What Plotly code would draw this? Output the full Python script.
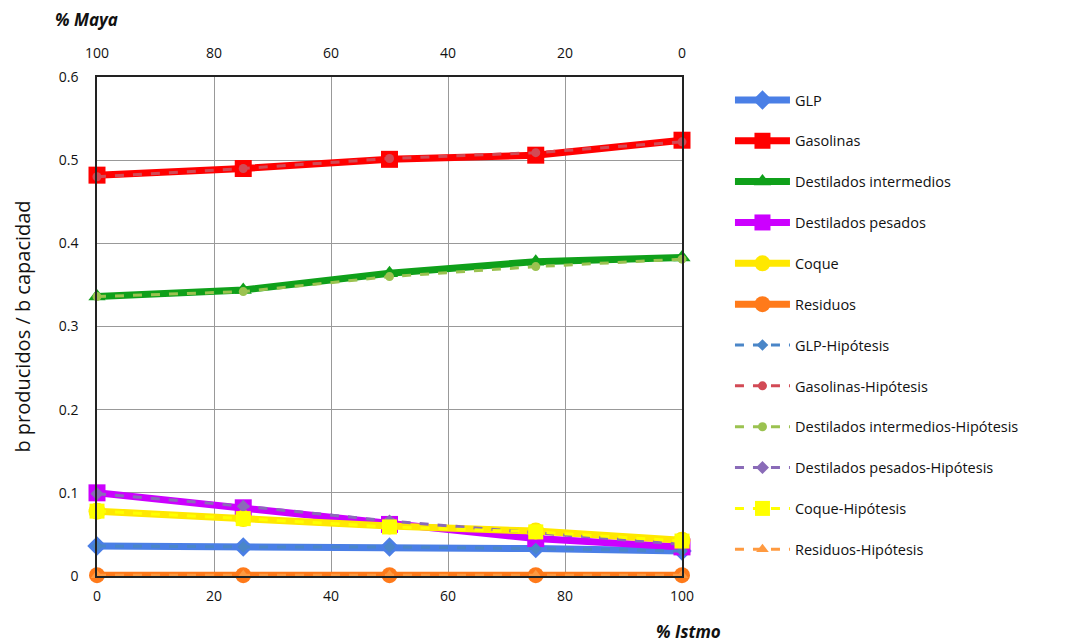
import plotly.graph_objects as go

istmo = [0, 25, 50, 75, 100]
maya_ticks = [100, 80, 60, 40, 20, 0]

glp = [0.036, 0.035, 0.035, 0.033, 0.030]
gasolinas = [0.482, 0.490, 0.501, 0.506, 0.524]
dest_int = [0.336, 0.344, 0.364, 0.378, 0.383]
dest_pes = [0.100, 0.082, 0.062, 0.045, 0.035]
coque = [0.078, 0.069, 0.060, 0.054, 0.043]
residuos = [0.001, 0.001, 0.001, 0.001, 0.001]

glp_h = [0.036, 0.035, 0.035, 0.033, 0.030]
gasolinas_h = [0.480, 0.490, 0.502, 0.509, 0.522]
dest_int_h = [0.336, 0.342, 0.360, 0.372, 0.381]
dest_pes_h = [0.099, 0.084, 0.066, 0.052, 0.038]
coque_h = [0.078, 0.069, 0.059, 0.053, 0.042]
residuos_h = [0.001, 0.001, 0.001, 0.001, 0.001]

solid = [
    ("GLP", glp, "#4A7FE6", "diamond", 15),
    ("Gasolinas", gasolinas, "#FF0000", "square", 17),
    ("Destilados intermedios", dest_int, "#0FA01A", "triangle-up", 15),
    ("Destilados pesados", dest_pes, "#CC00FF", "square", 17),
    ("Coque", coque, "#FFE800", "circle", 17),
    ("Residuos", residuos, "#FF7A1A", "circle", 16),
]
dashed = [
    ("GLP-Hipótesis", glp_h, "#4A86C8", "diamond", 9),
    ("Gasolinas-Hipótesis", gasolinas_h, "#D24A55", "circle", 9),
    ("Destilados intermedios-Hipótesis", dest_int_h, "#9BC250", "circle", 9),
    ("Destilados pesados-Hipótesis", dest_pes_h, "#8A6BB8", "diamond", 10),
    ("Coque-Hipótesis", coque_h, "#FFFF00", "square", 15),
    ("Residuos-Hipótesis", residuos_h, "#FF9A40", "triangle-up", 11),
]

fig = go.Figure()
for name, vals, col, sym, sz in solid:
    fig.add_trace(go.Scatter(x=istmo, y=vals, name=name, legendgroup=name,
                             mode="lines+markers", cliponaxis=False,
                             line=dict(color=col, width=7),
                             marker=dict(symbol=sym, size=sz, color=col)))
for name, vals, col, sym, sz in dashed:
    fig.add_trace(go.Scatter(x=istmo, y=vals, name=name, legendgroup=name,
                             mode="lines+markers", cliponaxis=False,
                             line=dict(color=col, width=3, dash="dash"),
                             marker=dict(symbol=sym, size=sz, color=col)))

# invisible trace to carry the top (% Maya) axis
fig.add_trace(go.Scatter(x=maya_ticks, y=[0.3] * len(maya_ticks), xaxis="x2",
                         mode="markers", marker=dict(opacity=0),
                         showlegend=False, hoverinfo="skip"))

font_family = "Open Sans, Liberation Sans, sans-serif"
fig.update_layout(
    width=1063, height=636,
    margin=dict(l=89, r=389, t=69, b=68),
    paper_bgcolor="white", plot_bgcolor="white",
    font=dict(family=font_family, size=14, color="#111"),
    xaxis=dict(range=[0, 100], tickvals=[0, 20, 40, 60, 80, 100],
               showgrid=True, gridcolor="#999", gridwidth=1,
               showline=True, linecolor="#222", linewidth=1.5, mirror=True,
               zeroline=False, ticks="", tickfont=dict(size=14),
               ticklabelstandoff=6, automargin=False),
    xaxis2=dict(range=[100, 0], overlaying="x", side="top", anchor="y",
                tickvals=maya_ticks, showgrid=False, zeroline=False,
                ticks="", tickfont=dict(size=14), ticklabelstandoff=15,
                automargin=False),
    yaxis=dict(range=[0, 0.6], tickvals=[0, 0.1, 0.2, 0.3, 0.4, 0.5, 0.6],
               ticktext=["0", "0.1", "0.2", "0.3", "0.4", "0.5", "0.6"],
               showgrid=True, gridcolor="#999", gridwidth=1,
               showline=True, linecolor="#222", linewidth=1.5, mirror=True,
               zeroline=False, ticks="", tickfont=dict(size=14),
               ticklabelstandoff=14, automargin=False),
    legend=dict(x=1.082, y=0.986, xanchor="left", yanchor="top",
                font=dict(size=14.5, family=font_family, color="#111"),
                tracegroupgap=19, itemwidth=55, bgcolor="rgba(0,0,0,0)"),
    showlegend=True,
    annotations=[
        dict(text="<b><i>% Maya</i></b>", xref="paper", yref="paper",
             x=-0.075, y=1.115, xanchor="left", yanchor="middle",
             showarrow=False, font=dict(size=17)),
        dict(text="<b><i>% Istmo</i></b>", xref="paper", yref="paper",
             x=1.07, y=-0.112, xanchor="right", yanchor="middle",
             showarrow=False, font=dict(size=17)),
        dict(text="b producidos / b capacidad", xref="paper", yref="paper",
             x=-0.128, y=0.5, xanchor="center", yanchor="middle",
             textangle=-90, showarrow=False, font=dict(size=20)),
    ],
)

fig.write_html("out.html")
